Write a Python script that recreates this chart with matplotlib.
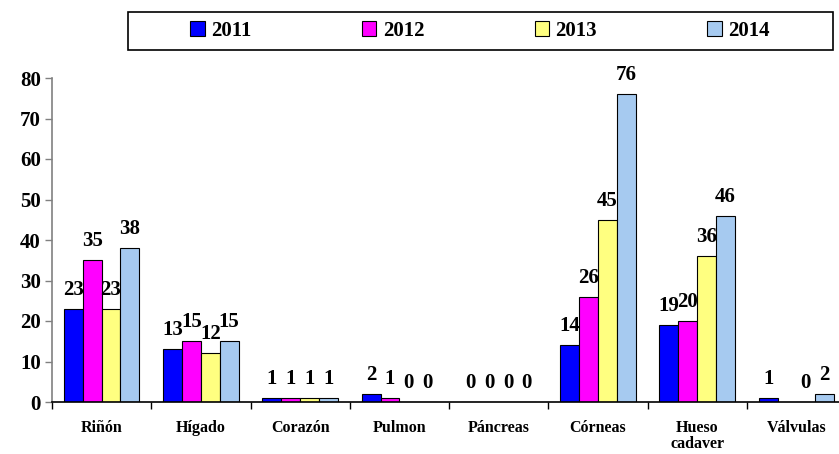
import numpy as np
import matplotlib
matplotlib.use("Agg")
import matplotlib.pyplot as plt
from matplotlib.patches import Patch, Rectangle

categories = ["Riñón", "Hígado", "Corazón", "Pulmon", "Páncreas", "Córneas", "Hueso\ncadaver", "Válvulas"]
years = ["2011", "2012", "2013", "2014"]
v2011 = [23, 13, 1, 2, 0, 14, 19, 1]
v2012 = [35, 15, 1, 1, 0, 26, 20, np.nan]
v2013 = [23, 12, 1, 0, 0, 45, 36, 0]
v2014 = [38, 15, 1, 0, 0, 76, 46, 2]
colors = ["#0000FF", "#FF00FF", "#FFFF80", "#A6CAF0"]

plt.rcParams["font.family"] = ["Liberation Serif", "DejaVu Serif"]
plt.rcParams["font.weight"] = "bold"

fig = plt.figure(figsize=(8.39, 4.54), dpi=100)
# the plot area runs slightly past the right edge, as in the original
ax = fig.add_axes([52 / 839, 52 / 454, 794 / 839, 324 / 454])

x = np.arange(len(categories))
w = 0.19
series = [v2011, v2012, v2013, v2014]
for i, vals in enumerate(series):
    pos = x + (i - 1.5) * w
    ax.bar(pos, vals, w, color=colors[i], edgecolor="black", linewidth=0.8, zorder=2)
    for px, v in zip(pos, vals):
        if np.isnan(v):
            continue
        ax.text(px, v + 2.2, str(int(v)), ha="center", va="bottom",
                fontsize=15, fontweight="bold")

ax.set_xlim(-0.5, len(categories) - 0.5)
ax.set_ylim(0, 80)
ax.set_yticks(range(0, 81, 10))
ax.tick_params(axis="y", labelsize=15, length=5, width=1, color="#808080", pad=3)
for lab in ax.get_yticklabels():
    lab.set_fontweight("bold")

ax.set_xticks(x)
ax.set_xticklabels(categories, fontsize=11.5, fontweight="bold", va="top", linespacing=1.0)
ax.tick_params(axis="x", which="major", length=0, pad=13)
ax.set_xticks(np.arange(-0.5, len(categories)), minor=True)
ax.tick_params(axis="x", which="minor", length=5, width=1, direction="out")

ax.spines["top"].set_visible(False)
ax.spines["right"].set_visible(False)
ax.spines["left"].set_color("#808080")
ax.spines["left"].set_linewidth(1.2)
ax.spines["bottom"].set_linewidth(1.2)

# legend box
box = Rectangle((128 / 839, 1 - 50 / 454), 705 / 839, 38 / 454, transform=fig.transFigure,
                facecolor="white", edgecolor="black", linewidth=1.2)
fig.patches.append(box)
handles = [Patch(facecolor=c, edgecolor="black", linewidth=0.8) for c in colors]
fig.legend(handles, years, loc="center", ncol=4,
           bbox_to_anchor=(480 / 839, 1 - 31 / 454),
           prop={"size": 15, "weight": "bold"}, handlelength=0.7, handleheight=0.7,
           handletextpad=0.3, frameon=False, columnspacing=5.3)

fig.savefig("out.png", dpi=100)
